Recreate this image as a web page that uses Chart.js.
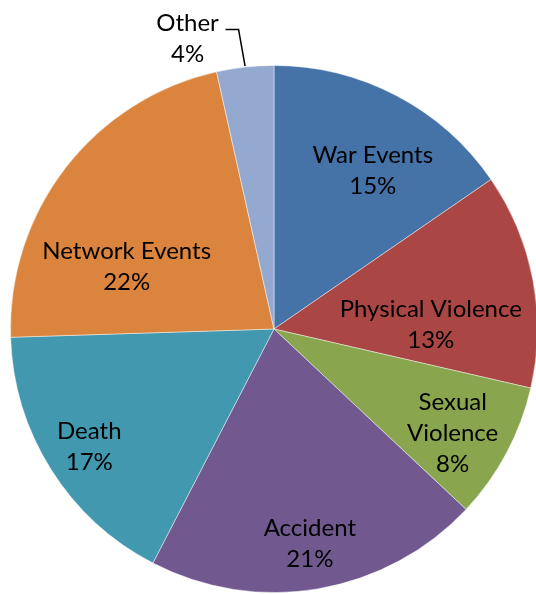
<!DOCTYPE html>
<html>
<head>
<meta charset="utf-8">
<script src="https://cdn.jsdelivr.net/npm/chart.js@4/dist/chart.umd.min.js"></script>
<style>
  html, body { margin: 0; padding: 0; background: #fff; overflow: hidden; }
  #wrap { position: absolute; left: 0; top: 0; width: 548px; height: 594px; }
</style>
</head>
<body>
<div id="wrap"><canvas id="pie"></canvas></div>
<script>
// categories and shares (slice sizes, labels as printed)
const categories = ['War Events', 'Physical Violence', ['Sexual', 'Violence'], 'Accident', 'Death', 'Network Events', 'Other'];
const shares = [15.4, 13.2, 8.4, 20.6, 16.9, 22.0, 3.5];
const pctLabels = ['15%', '13%', '8%', '21%', '17%', '22%', '4%'];
const colors = ['#4572A7', '#AA4643', '#89A54E', '#71588F', '#4198AF', '#DB843D', '#93A9CF'];

// label block centres, as fractions of the radius from the pie centre
const labelOffsets = [
  [0.375, -0.602], [0.595, -0.015], [0.678, 0.394], [0.136, 0.814],
  [-0.701, 0.447], [-0.559, -0.235], [-0.328, -1.102]
];

const sliceLabels = {
  id: 'sliceLabels',
  afterDatasetsDraw(chart) {
    const ctx = chart.ctx;
    const arcs = chart.getDatasetMeta(0).data;
    ctx.save();
    ctx.font = '24px Lato';
    ctx.fillStyle = '#000';
    ctx.textAlign = 'center';
    ctx.textBaseline = 'middle';
    const lineH = 31;
    arcs.forEach((arc, i) => {
      const { x, y, outerRadius, startAngle, endAngle } = arc.getProps(['x', 'y', 'outerRadius', 'startAngle', 'endAngle'], true);
      const cat = categories[i];
      const lines = (Array.isArray(cat) ? cat : [cat]).concat(pctLabels[i]);
      const lx = x + labelOffsets[i][0] * outerRadius;
      const ly = y + labelOffsets[i][1] * outerRadius;
      const top = ly - (lines.length - 1) * lineH / 2;
      lines.forEach((t, k) => ctx.fillText(t, lx, top + k * lineH));

      // leader line for the label that sits outside the pie
      if (labelOffsets[i][1] < -1) {
        const mid = (startAngle + endAngle) / 2;
        const ex = x + Math.cos(mid) * outerRadius;
        const ey = y + Math.sin(mid) * outerRadius;
        ctx.beginPath();
        ctx.strokeStyle = '#000';
        ctx.lineWidth = 1.5;
        ctx.moveTo(lx + 38, ly - 9);
        ctx.lineTo(lx + 51, ly - 9);
        ctx.lineTo(ex, ey - 1);
        ctx.stroke();
      }
    });
    ctx.restore();
  }
};

new Chart(document.getElementById('pie'), {
  type: 'pie',
  data: {
    labels: categories,
    datasets: [{
      data: shares,
      backgroundColor: colors,
      borderColor: 'rgba(255,255,255,0.45)',
      borderWidth: 1
    }]
  },
  options: {
    responsive: true,
    maintainAspectRatio: false,
    animation: false,
    layout: { padding: { left: 10, right: 10, top: 65, bottom: 1 } },
    plugins: {
      legend: { display: false },
      tooltip: { enabled: false }
    }
  },
  plugins: [sliceLabels]
});
</script>
</body>
</html>
